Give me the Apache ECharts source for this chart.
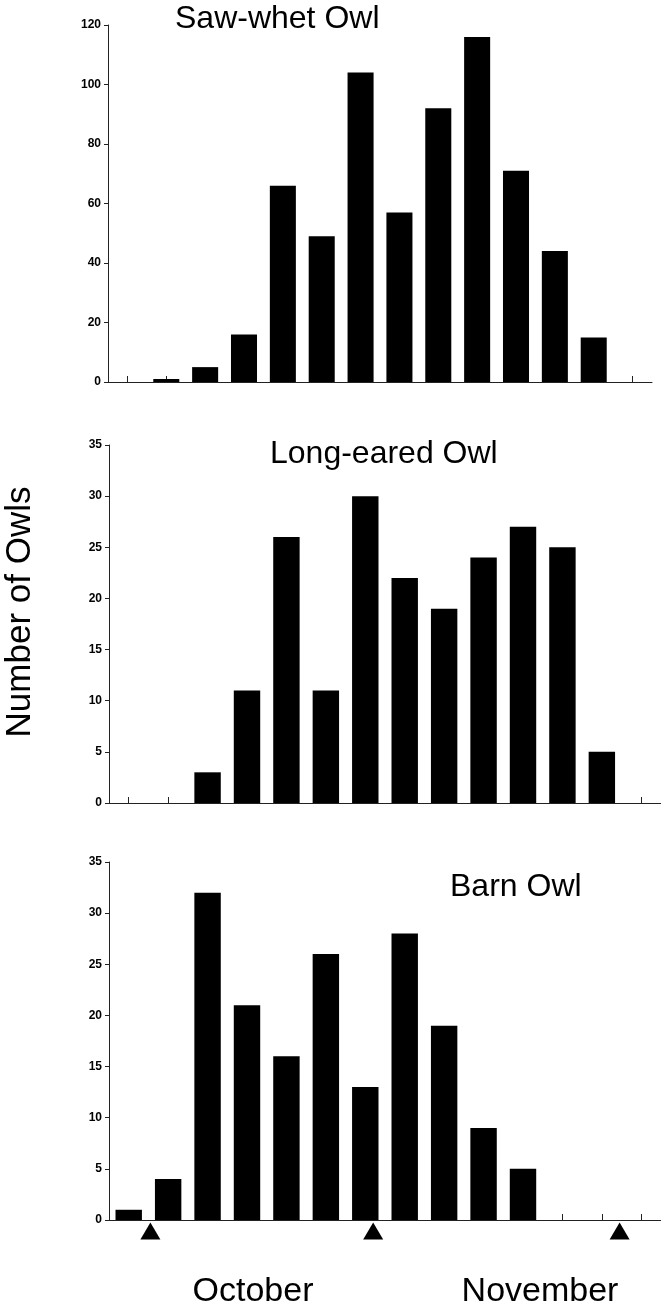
<!DOCTYPE html>
<html>
<head>
<meta charset="utf-8">
<script src="https://cdn.jsdelivr.net/npm/echarts@6/dist/echarts.min.js"></script>
<style>
  html, body { margin: 0; padding: 0; background: #fff; }
  #chart { width: 661px; height: 1312px; }
</style>
</head>
<body>
<div id="chart"></div>
<script>
// weekly slots, Oct - Nov
const slots = ['1', '2', '3', '4', '5', '6', '7', '8', '9', '10', '11', '12', '13', '14'];

const sawWhet = [0, 1, 5, 16, 66, 49, 104, 57, 92, 116, 71, 44, 15, 0];
const longEared = [0, 0, 3, 11, 26, 11, 30, 22, 19, 24, 27, 25, 5, 0];
const barn = [1, 4, 32, 21, 16, 26, 13, 28, 19, 9, 5, 0, 0, 0];

// triangle markers under the bottom axis (position in slot units)
const markerPos = [0.55, 6.2, 12.45];

const panelTitles = ['Saw-whet Owl', 'Long-eared Owl', 'Barn Owl'];
const monthLabels = ['October', 'November'];
const yLabel = 'Number of Owls';

const font = "'Liberation Sans', Arial, Helvetica, sans-serif";

function catAxis(gridIndex) {
  return {
    type: 'category',
    gridIndex: gridIndex,
    data: slots,
    boundaryGap: true,
    axisLine: { lineStyle: { color: '#222', width: 1 } },
    axisTick: { show: true, inside: true, length: 6, interval: 0, alignWithLabel: true, lineStyle: { color: '#222' } },
    axisLabel: { show: false, interval: 0 },
    splitLine: { show: false }
  };
}

function valAxis(gridIndex, max, interval) {
  return {
    type: 'value',
    gridIndex: gridIndex,
    min: 0,
    max: max,
    interval: interval,
    axisLine: { show: true, onZero: false, lineStyle: { color: '#222', width: 1 } },
    axisTick: { show: true, length: 4, lineStyle: { color: '#222' } },
    axisLabel: { color: '#000', fontSize: 12, fontWeight: 'bold', fontFamily: font, margin: 7 },
    splitLine: { show: false }
  };
}

function barSeries(idx, data) {
  return {
    type: 'bar',
    xAxisIndex: idx,
    yAxisIndex: idx,
    data: data,
    barCategoryGap: '33%',
    itemStyle: { color: '#000' },
    silent: true
  };
}

const myChart = echarts.init(document.getElementById('chart'), null, { renderer: 'canvas' });

const xAxes = [catAxis(0), catAxis(1), catAxis(2)];
// hidden value axis on the bottom grid, only for the triangles
xAxes.push({ type: 'value', gridIndex: 2, min: -0.5, max: 13.5, show: false, position: 'bottom' });

const option = {
  animation: false,
  backgroundColor: '#fff',
  grid: [
    { left: 108, top: 25, width: 544, height: 357 },
    { left: 109, top: 445, width: 555, height: 358 },
    { left: 109, top: 862, width: 555, height: 358 }
  ],
  xAxis: xAxes,
  yAxis: [
    valAxis(0, 120, 20),
    valAxis(1, 35, 5),
    valAxis(2, 35, 5)
  ],
  series: [
    barSeries(0, sawWhet),
    barSeries(1, longEared),
    barSeries(2, barn),
    {
      type: 'scatter',
      xAxisIndex: 3,
      yAxisIndex: 2,
      data: markerPos.map(function (p) { return [p, 0]; }),
      symbol: 'triangle',
      symbolSize: [20, 17],
      symbolOffset: [0, 11],
      clip: false,
      itemStyle: { color: '#000', opacity: 1 },
      silent: true
    }
  ],
  graphic: [
    { type: 'text', x: 175, y: 19, style: { text: panelTitles[0], font: '32px ' + font, fill: '#000', textVerticalAlign: 'middle' } },
    { type: 'text', x: 270, y: 454, style: { text: panelTitles[1], font: '32px ' + font, fill: '#000', textVerticalAlign: 'middle' } },
    { type: 'text', x: 450, y: 887, style: { text: panelTitles[2], font: '32px ' + font, fill: '#000', textVerticalAlign: 'middle' } },
    { type: 'text', x: 20, y: 612, rotation: Math.PI / 2, style: { text: yLabel, font: '35px ' + font, fill: '#000', textAlign: 'center', textVerticalAlign: 'middle' } },
    { type: 'text', x: 253, y: 1292, style: { text: monthLabels[0], font: '34px ' + font, fill: '#000', textAlign: 'center', textVerticalAlign: 'middle' } },
    { type: 'text', x: 540, y: 1292, style: { text: monthLabels[1], font: '34px ' + font, fill: '#000', textAlign: 'center', textVerticalAlign: 'middle' } }
  ]
};

myChart.setOption(option);
</script>
</body>
</html>
